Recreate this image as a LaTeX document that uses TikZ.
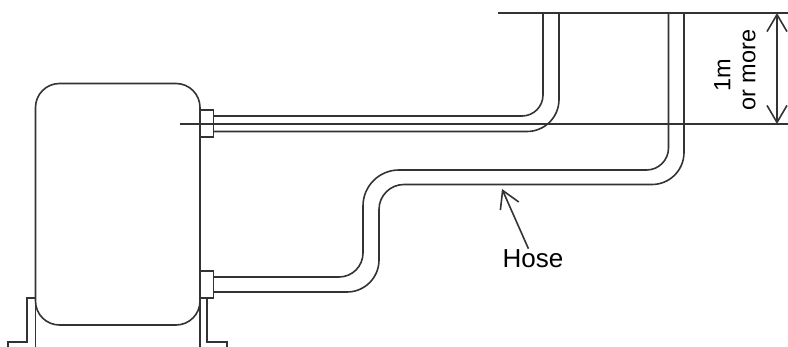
\documentclass[tikz,border=0pt]{standalone}
\usepackage{fontspec}
\setmainfont{Liberation Sans}
\usetikzlibrary{arrows.meta}

\begin{document}
\begin{tikzpicture}[x=1pt,y=-1pt]
  \tikzset{line/.style={draw=black!80,line width=1.6pt},
    tankbox/.style={line,rounded corners=24pt,minimum width=164.5pt,minimum height=241.5pt,inner sep=0pt,outer sep=0pt},
    fitting/.style={line,minimum width=13.5pt,minimum height=27pt,inner sep=0pt,outer sep=0pt},
    barb/.style={line,-{Straight Barb[length=17pt,width=20pt]}},
    label/.style={font=\fontsize{23.5}{25}\selectfont,inner sep=1pt,align=center}}
  \useasboundingbox (0,0) rectangle (788,347);
  \node[tankbox] (tank) at (117.75,204.25) {};
  \node[fitting] (fittop) at (206.75,123.5) {};
  \node[fitting] (fitbot) at (206.75,284.5) {};
  % levels
  \draw[line] (498,13) -- (788,13);
  \draw[line] (180,124) -- (788,124);
  % feet
  \draw[line] (35.5,298) -- (27,298) -- (27,342) -- (8,342) -- (8,347);
  \draw[line] (35.5,298) -- (35.5,347);
  \draw[line] (200,298) -- (200,347);
  \draw[line] (207,298) -- (207,342) -- (227,342) -- (227,347);
  % upper hose
  \draw[line,rounded corners=21pt] (fittop.east |- 0,116) -- (543,116) -- (543,13);
  \draw[line,rounded corners=32pt] (fittop.east |- 0,131.5) -- (559,131.5) -- (559,13);
  % lower hose
  \draw[line,rounded corners=24pt] (fitbot.east |- 0,277) -- (363,277) -- (363,228);
  \draw[line,rounded corners=36pt] (363,228) -- (363,170) -- (500,170);
  \draw[line,rounded corners=22pt] (500,170) -- (668.5,170) -- (668.5,13);
  \draw[line,rounded corners=32pt] (fitbot.east |- 0,292) -- (379,292) -- (379,238);
  \draw[line,rounded corners=25pt] (379,238) -- (379,184.5) -- (500,184.5);
  \draw[line,rounded corners=32pt] (500,184.5) -- (684,184.5) -- (684,13);
  % labels
  \node[label,font=\fontsize{26}{27}\selectfont] (hoselabel) at (533,259) {Hose};
  \coordinate (hosetip) at (502,189);
  \draw[barb] (hoselabel) -- (hosetip);
  \node[label,rotate=90] (dimlabel) at (735,70) {1m\hspace*{11pt}\\or more};
  \coordinate (dimtop) at (777,13);
  \coordinate (dimbot) at (777,124);
  \draw[barb,{Straight Barb[length=17pt,width=20pt]}-{Straight Barb[length=17pt,width=20pt]}] (dimtop) -- (dimbot);
\end{tikzpicture}
\end{document}
